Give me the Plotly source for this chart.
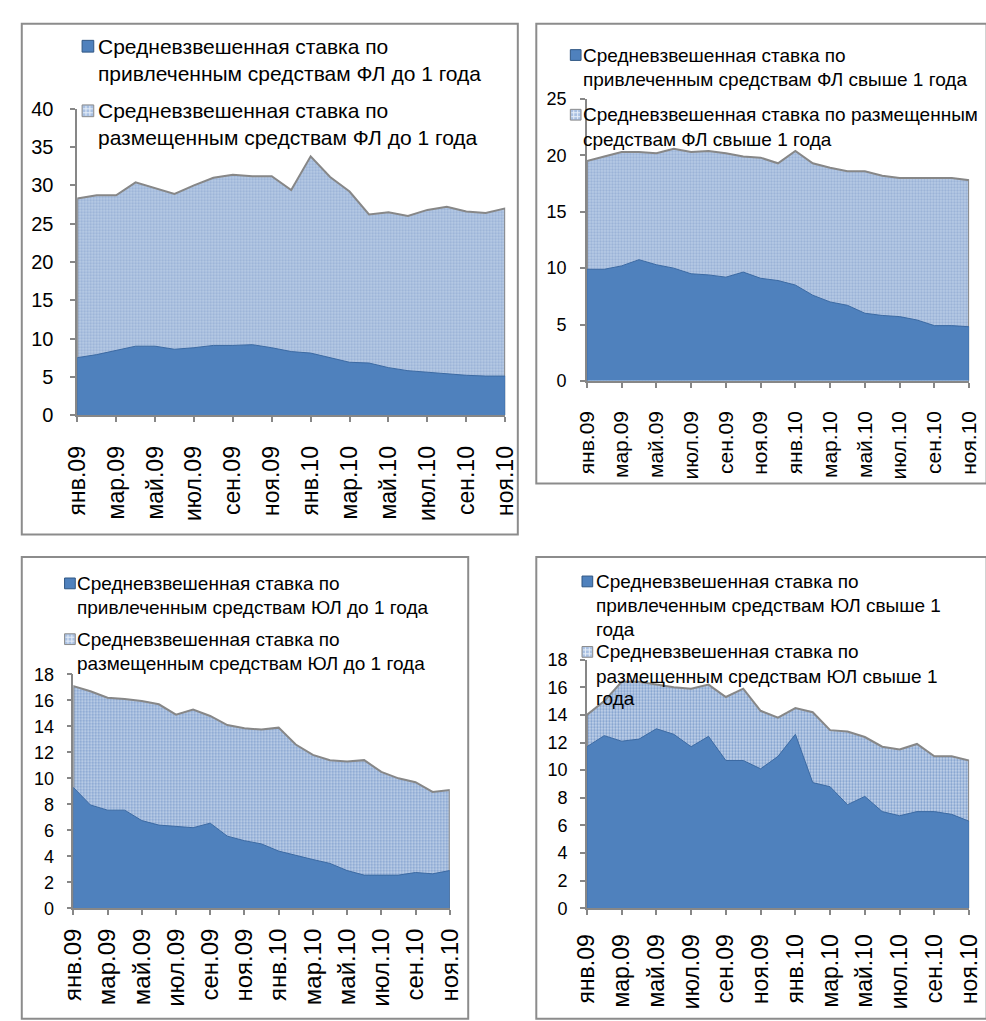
import plotly.graph_objects as go

W, H = 986, 1021

months = ["янв.09", "фев.09", "мар.09", "апр.09", "май.09", "июн.09", "июл.09", "авг.09",
          "сен.09", "окт.09", "ноя.09", "дек.09", "янв.10", "фев.10", "мар.10", "апр.10",
          "май.10", "июн.10", "июл.10", "авг.10", "сен.10", "окт.10", "ноя.10"]

# Физические лица, до 1 года
fl_short_attracted = [7.5, 7.9, 8.4, 9.0, 9.0, 8.6, 8.8, 9.1, 9.1, 9.2, 8.8, 8.3,
                      8.1, 7.5, 6.9, 6.8, 6.2, 5.8, 5.6, 5.4, 5.2, 5.1, 5.1]
fl_short_placed = [28.3, 28.7, 28.7, 30.4, 29.6, 28.9, 30.0, 31.0, 31.4, 31.2, 31.2, 29.4,
                   33.8, 31.1, 29.2, 26.2, 26.5, 26.0, 26.8, 27.2, 26.6, 26.4, 27.0]

# Физические лица, свыше 1 года
fl_long_attracted = [9.9, 9.9, 10.2, 10.75, 10.3, 10.0, 9.5, 9.4, 9.2, 9.65, 9.1, 8.9,
                     8.5, 7.6, 7.0, 6.7, 6.0, 5.8, 5.7, 5.4, 4.9, 4.9, 4.8]
fl_long_placed = [19.5, 19.9, 20.3, 20.3, 20.2, 20.6, 20.3, 20.4, 20.2, 19.9, 19.8, 19.3,
                  20.4, 19.3, 18.9, 18.6, 18.6, 18.2, 18.0, 18.0, 18.0, 18.0, 17.8]

# Юридические лица, до 1 года
ul_short_attracted = [9.3, 7.95, 7.55, 7.55, 6.75, 6.4, 6.3, 6.2, 6.55, 5.55, 5.2, 4.95,
                      4.4, 4.05, 3.75, 3.45, 2.9, 2.55, 2.55, 2.55, 2.75, 2.65, 2.9]
ul_short_placed = [17.1, 16.7, 16.2, 16.1, 15.95, 15.7, 14.9, 15.3, 14.8, 14.1, 13.85, 13.75,
                   13.9, 12.6, 11.8, 11.4, 11.3, 11.4, 10.5, 10.0, 9.7, 8.95, 9.1]

# Юридические лица, свыше 1 года
ul_long_attracted = [11.7, 12.5, 12.1, 12.25, 13.0, 12.6, 11.7, 12.45, 10.7, 10.7, 10.1, 11.0,
                     12.6, 9.1, 8.8, 7.5, 8.1, 7.0, 6.7, 7.0, 7.0, 6.8, 6.3]
ul_long_placed = [14.0, 15.0, 16.4, 16.4, 16.2, 16.0, 15.9, 16.2, 15.3, 15.9, 14.3, 13.8,
                  14.5, 14.2, 12.9, 12.8, 12.4, 11.7, 11.5, 11.9, 11.0, 11.0, 10.7]

legend_texts = [
    (["Средневзвешенная ставка по", "привлеченным средствам ФЛ до 1 года"],
     ["Средневзвешенная ставка по", "размещенным средствам ФЛ до 1 года"]),
    (["Средневзвешенная ставка по", "привлеченным средствам ФЛ свыше 1 года"],
     ["Средневзвешенная ставка по размещенным", "средствам ФЛ свыше 1 года"]),
    (["Средневзвешенная ставка по", "привлеченным средствам ЮЛ до 1 года"],
     ["Средневзвешенная ставка по", "размещенным средствам ЮЛ до 1 года"]),
    (["Средневзвешенная ставка по", "привлеченным средствам ЮЛ свыше 1", "года"],
     ["Средневзвешенная ставка по", "размещенным средствам ЮЛ свыше 1", "года"]),
]

DARK = "#4f81bd"
DARK_EDGE = "#3c6aa3"
GREY = "#878787"
FONT = "Liberation Sans, Arial, sans-serif"


def px_x(a, b):
    return [a / W, b / W]


def px_y(top, bottom):
    return [1 - bottom / H, 1 - top / H]


# per panel: plot area (left, right, top, bottom), y range/step, border box,
# legend swatch x/size, text x, legend line centres, font sizes, label offsets, fill style
panels = [
    dict(plot=(65, 505, 100, 413), ymax=40, dtick=5, box=(8, 518, 13, 535),
         sw=70, sws=12, tx=84, lines=([36, 64], [102, 129]),
         leg_size=21, ytick_size=20, xtick_size=23, ystand=13, xstand=15,
         placed=fl_short_placed, attracted=fl_short_attracted,
         bg="#b9cce6", fg="#98b1d6"),
    dict(plot=(589, 982, 90, 378), ymax=25, dtick=5, box=(537, 1000, 13, 483),
         sw=572, sws=11, tx=583, lines=([45, 70], [106, 131]),
         leg_size=19, ytick_size=18, xtick_size=21, ystand=10, xstand=15,
         placed=fl_long_placed, attracted=fl_long_attracted,
         bg="#b9cce6", fg="#98b1d6"),
    dict(plot=(61, 448, 678, 917), ymax=18, dtick=2, box=(8, 467, 558, 1030),
         sw=52, sws=11, tx=63, lines=([585, 610], [642, 667]),
         leg_size=19, ytick_size=18, xtick_size=24, ystand=9, xstand=4,
         placed=ul_short_placed, attracted=ul_short_attracted,
         bg="#c6d6ec", fg="#7d9dcc"),
    dict(plot=(589, 982, 663, 917), ymax=18, dtick=2, box=(537, 1000, 558, 1030),
         sw=584, sws=11, tx=596, lines=([583, 608, 632], [655, 680, 703]),
         leg_size=19, ytick_size=18, xtick_size=23, ystand=9, xstand=10,
         placed=ul_long_placed, attracted=ul_long_attracted,
         bg="#c6d6ec", fg="#7d9dcc"),
]

fig = go.Figure()
shapes = []
annotations = []

for i, p in enumerate(panels, start=1):
    xa = "x" if i == 1 else f"x{i}"
    ya = "y" if i == 1 else f"y{i}"
    xs = [months[0]] + months + [months[-1]]

    # размещенные средства (светлая область, позади)
    fig.add_trace(go.Scatter(
        x=xs, y=[0] + p["placed"] + [0], xaxis=xa, yaxis=ya,
        mode="lines", fill="toself", fillcolor=p["bg"],
        fillpattern=dict(shape=".", bgcolor=p["bg"], fgcolor=p["fg"],
                         size=3, solidity=0.45, fillmode="replace"),
        line=dict(color=GREY, width=2), showlegend=False, hoverinfo="skip"))
    # привлеченные средства (тёмная область, спереди)
    fig.add_trace(go.Scatter(
        x=xs, y=[0] + p["attracted"] + [0], xaxis=xa, yaxis=ya,
        mode="lines", fill="toself", fillcolor=DARK,
        line=dict(color=DARK_EDGE, width=1), showlegend=False, hoverinfo="skip"))

    l, r, t, b = p["plot"]
    axis_common = dict(showline=True, linecolor=GREY, linewidth=1.5,
                       ticks="outside", ticklen=5, tickcolor=GREY, tickwidth=1.5,
                       showgrid=False, zeroline=False)
    fig.update_layout(**{
        ("xaxis" if i == 1 else f"xaxis{i}"): dict(
            axis_common, type="category", domain=px_x(l, r), range=[0, len(months) - 1],
            anchor=ya, tickvals=months[::2], ticktext=months[::2], tickangle=-90,
            ticklabelstandoff=p["xstand"],
            tickfont=dict(family=FONT, size=p["xtick_size"], color="#000")),
        ("yaxis" if i == 1 else f"yaxis{i}"): dict(
            axis_common, domain=px_y(t, b), range=[0, p["ymax"]], anchor=xa,
            tickmode="linear", tick0=0, dtick=p["dtick"], ticklabelstandoff=p["ystand"],
            tickfont=dict(family=FONT, size=p["ytick_size"], color="#000")),
    })

    bl, br, bt, bb = p["box"]
    shapes.append(dict(type="rect", xref="paper", yref="paper",
                       x0=bl / W, x1=br / W, y0=1 - bb / H, y1=1 - bt / H,
                       line=dict(color="#8c8c8c", width=2), fillcolor="rgba(0,0,0,0)",
                       layer="below"))

    # легенда
    sw, s = p["sw"], p["sws"]
    for k, (lines_y, texts) in enumerate(zip(p["lines"], legend_texts[i - 1])):
        cy = lines_y[0]
        box = dict(type="rect", xref="paper", yref="paper",
                   x0=sw / W, x1=(sw + s) / W,
                   y0=1 - (cy + s / 2) / H, y1=1 - (cy - s / 2) / H, layer="above")
        if k == 0:
            shapes.append(dict(box, fillcolor=DARK, line=dict(color="#2f5683", width=1)))
        else:
            shapes.append(dict(box, fillcolor="#a9c0e2", line=dict(color="#8c8c8c", width=1)))
            for d in (-2, 2):
                shapes.append(dict(type="line", xref="paper", yref="paper",
                                   x0=(sw + s / 2 + d) / W, x1=(sw + s / 2 + d) / W,
                                   y0=1 - (cy + s / 2 - 1) / H, y1=1 - (cy - s / 2 + 1) / H,
                                   line=dict(color="#e6eef8", width=1), layer="above"))
                shapes.append(dict(type="line", xref="paper", yref="paper",
                                   x0=(sw + 1) / W, x1=(sw + s - 1) / W,
                                   y0=1 - (cy + d) / H, y1=1 - (cy + d) / H,
                                   line=dict(color="#e6eef8", width=1), layer="above"))
        for ly, txt in zip(lines_y, texts):
            annotations.append(dict(xref="paper", yref="paper", x=p["tx"] / W, y=1 - ly / H,
                                    xanchor="left", yanchor="middle", showarrow=False,
                                    text=txt,
                                    font=dict(family=FONT, size=p["leg_size"], color="#000")))

fig.update_layout(width=W, height=H, margin=dict(l=0, r=0, t=0, b=0),
                  paper_bgcolor="white", plot_bgcolor="rgba(0,0,0,0)",
                  shapes=shapes, annotations=annotations, showlegend=False)

# the page body gets no default margin so the figure fills the window exactly
fig.write_html("out.html",
               post_script="document.body.style.margin='0';document.body.style.overflow='hidden';")
